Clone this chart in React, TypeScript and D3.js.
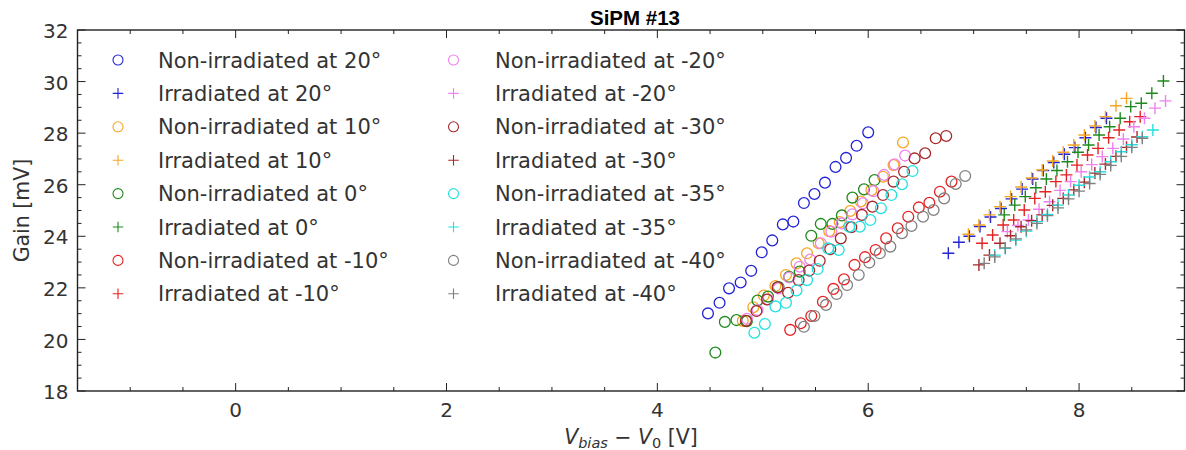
import React from 'react';
import * as d3 from 'd3';

// ---------- data ----------
const xDomain = [-1.5, 9];
const yDomain = [18, 32];
const xMajorTicks = [0, 2, 4, 6, 8];
const yMajorTicks = [18, 20, 22, 24, 26, 28, 30, 32];

const nonIrr20X = [4.48, 4.59, 4.68, 4.79, 4.89, 4.99, 5.09, 5.19, 5.29, 5.39, 5.49, 5.59, 5.69, 5.79, 5.89, 6.0];
const nonIrr20Y = [21.01, 21.42, 21.98, 22.21, 22.66, 23.38, 23.84, 24.46, 24.57, 25.29, 25.64, 26.08, 26.69, 27.04, 27.51, 28.03];
const irr20X = [6.76, 6.86, 6.96, 7.06, 7.16, 7.26, 7.36, 7.46, 7.56, 7.66, 7.76, 7.86, 7.96, 8.06, 8.16, 8.26];
const irr20Y = [23.34, 23.77, 24.0, 24.38, 24.75, 25.08, 25.45, 25.83, 26.22, 26.55, 26.86, 27.18, 27.44, 27.82, 28.22, 28.58];

const nonIrr10X = [4.81, 4.91, 5.01, 5.12, 5.22, 5.32, 5.42, 5.53, 5.63, 5.73, 5.83, 5.93, 6.03, 6.14, 6.24, 6.33];
const nonIrr10Y = [20.72, 21.25, 21.7, 22.07, 22.5, 22.95, 23.34, 23.73, 24.2, 24.55, 24.98, 25.35, 25.79, 26.31, 26.76, 27.64];
const irr10X = [6.95, 7.05, 7.15, 7.25, 7.35, 7.45, 7.55, 7.65, 7.75, 7.85, 7.95, 8.05, 8.15, 8.25, 8.35, 8.45];
const irr10Y = [24.08, 24.44, 24.83, 25.15, 25.54, 25.91, 26.26, 26.57, 26.92, 27.26, 27.54, 27.93, 28.28, 28.64, 29.06, 29.35];

const nonIrr0X = [4.55, 4.64, 4.75, 4.85, 4.95, 5.05, 5.15, 5.25, 5.35, 5.46, 5.55, 5.66, 5.75, 5.85, 5.96, 6.06];
const nonIrr0Y = [19.49, 20.68, 20.75, 20.71, 21.51, 21.66, 22.03, 22.43, 22.63, 24.02, 24.48, 24.48, 24.81, 25.5, 25.82, 26.18];
const irr0X = [7.29, 7.39, 7.49, 7.59, 7.69, 7.79, 7.89, 7.99, 8.09, 8.19, 8.29, 8.39, 8.49, 8.59, 8.69, 8.8];
const irr0Y = [24.83, 25.21, 25.54, 25.88, 26.22, 26.55, 26.89, 27.26, 27.54, 27.93, 28.25, 28.58, 29.03, 29.16, 29.55, 30.02];

const nonIrrM10X = [5.26, 5.36, 5.46, 5.57, 5.67, 5.77, 5.87, 5.97, 6.07, 6.17, 6.28, 6.38, 6.48, 6.58, 6.68, 6.79];
const nonIrrM10Y = [20.37, 20.63, 20.91, 21.46, 21.96, 22.33, 22.89, 23.19, 23.47, 23.92, 24.31, 24.76, 25.12, 25.3, 25.73, 26.12];
const irrM10X = [7.08, 7.18, 7.28, 7.38, 7.48, 7.58, 7.68, 7.78, 7.88, 7.98, 8.08, 8.18, 8.28, 8.38, 8.48, 8.58];
const irrM10Y = [23.73, 24.05, 24.44, 24.63, 25.02, 25.47, 25.73, 26.12, 26.38, 26.76, 27.15, 27.41, 27.82, 28.12, 28.44, 28.64];

const nonIrrM20X = [4.85, 4.95, 5.05, 5.15, 5.25, 5.35, 5.45, 5.55, 5.65, 5.75, 5.85, 5.95, 6.05, 6.15, 6.25, 6.35];
const nonIrrM20Y = [20.8, 21.14, 21.55, 21.98, 22.4, 22.82, 23.1, 23.73, 24.18, 24.5, 24.85, 25.28, 25.75, 26.38, 26.79, 27.13];
const irrM20X = [7.32, 7.42, 7.52, 7.62, 7.72, 7.82, 7.92, 8.02, 8.12, 8.22, 8.32, 8.42, 8.52, 8.62, 8.72, 8.82];
const irrM20Y = [24.18, 24.42, 24.63, 25.05, 25.34, 25.78, 26.12, 26.5, 26.78, 27.09, 27.41, 27.77, 28.25, 28.58, 28.97, 29.25];

const nonIrrM30X = [4.84, 4.94, 5.04, 5.14, 5.24, 5.34, 5.44, 5.54, 5.64, 5.74, 5.84, 5.94, 6.04, 6.14, 6.24, 6.34, 6.44, 6.54, 6.64, 6.74];
const nonIrrM30Y = [20.72, 21.1, 21.55, 22.02, 21.81, 22.3, 22.67, 23.05, 23.5, 23.92, 24.35, 24.83, 25.15, 25.6, 26.12, 26.5, 27.02, 27.22, 27.8, 27.89];
const irrM30X = [7.05, 7.15, 7.25, 7.35, 7.45, 7.55, 7.65, 7.75, 7.85, 7.95, 8.05, 8.15, 8.25, 8.35, 8.45, 8.55];
const irrM30Y = [22.89, 23.27, 23.73, 24.02, 24.37, 24.6, 24.83, 25.2, 25.47, 25.8, 26.1, 26.45, 26.8, 27.1, 27.45, 27.85];

const nonIrrM35X = [4.92, 5.02, 5.12, 5.22, 5.32, 5.42, 5.52, 5.62, 5.72, 5.82, 5.92, 6.02, 6.12, 6.22, 6.32, 6.42];
const nonIrrM35Y = [20.26, 20.6, 21.28, 21.42, 21.9, 22.3, 22.73, 23.53, 23.47, 24.37, 24.37, 24.63, 25.09, 25.6, 26.02, 26.53];
const irrM35X = [7.2, 7.3, 7.4, 7.5, 7.6, 7.7, 7.8, 7.9, 8.0, 8.1, 8.2, 8.3, 8.4, 8.5, 8.6, 8.7];
const irrM35Y = [23.27, 23.53, 23.85, 24.2, 24.57, 24.85, 25.21, 25.6, 25.98, 26.3, 26.5, 26.89, 27.28, 27.55, 27.86, 28.12];

const nonIrrM40X = [5.39, 5.49, 5.6, 5.7, 5.8, 5.91, 6.01, 6.11, 6.21, 6.32, 6.41, 6.52, 6.62, 6.72, 6.83, 6.92];
const nonIrrM40Y = [20.49, 20.91, 21.34, 21.76, 22.11, 22.5, 22.98, 23.34, 23.6, 24.12, 24.4, 24.76, 25.02, 25.47, 26.03, 26.34];
const irrM40X = [7.1, 7.2, 7.3, 7.4, 7.5, 7.6, 7.7, 7.8, 7.9, 8.0, 8.1, 8.2, 8.3, 8.4, 8.5, 8.6];
const irrM40Y = [22.95, 23.2, 23.55, 23.9, 24.25, 24.5, 24.8, 25.1, 25.45, 25.75, 26.05, 26.4, 26.75, 27.1, 27.45, 27.8];

const temps = ['20', '10', '0', '-10', '-20', '-30', '-35', '-40'];
const colors = ['#2323d6', '#f5a623', '#1e8a1e', '#e52222', '#ee82ee', '#a52a2a', '#22e0e0', '#808080'];
const nonIrrXs = [nonIrr20X, nonIrr10X, nonIrr0X, nonIrrM10X, nonIrrM20X, nonIrrM30X, nonIrrM35X, nonIrrM40X];
const nonIrrYs = [nonIrr20Y, nonIrr10Y, nonIrr0Y, nonIrrM10Y, nonIrrM20Y, nonIrrM30Y, nonIrrM35Y, nonIrrM40Y];
const irrXs = [irr20X, irr10X, irr0X, irrM10X, irrM20X, irrM30X, irrM35X, irrM40X];
const irrYs = [irr20Y, irr10Y, irr0Y, irrM10Y, irrM20Y, irrM30Y, irrM35Y, irrM40Y];

// ---------- layout ----------
const W = 1186;
const H = 450;
const L = 77.5, R = 1184.5, T = 30, B = 391;
const FONT = 'DejaVu Sans, Verdana, sans-serif';
const TXT = '#333333';

type Series = { label: string; color: string; marker: 'o' | '+'; xs: number[]; ys: number[] };

const series: Series[] = [];
temps.forEach((t, i) => {
  series.push({ label: `Non-irradiated at ${t}°`, color: colors[i], marker: 'o', xs: nonIrrXs[i], ys: nonIrrYs[i] });
  series.push({ label: `Irradiated at ${t}°`, color: colors[i], marker: '+', xs: irrXs[i], ys: irrYs[i] });
});

const plusPath = (a: number) => `M${-a},0H${a}M0,${-a}V${a}`;

export default function App() {
  const x = d3.scaleLinear().domain(xDomain).range([L, R]);
  const y = d3.scaleLinear().domain(yDomain).range([B, T]);
  const xMinor = d3.range(xDomain[0], xDomain[1] + 0.001, 0.5).filter((v) => !xMajorTicks.includes(v));
  const yMinor = d3.range(yDomain[0], yDomain[1] + 0.001, 0.5).filter((v) => !yMajorTicks.includes(v));
  const MAJ = 8, MIN = 4;
  const tickColor = '#222';

  return (
    <svg width={W} height={H} style={{ position: 'absolute', left: 0, top: 0, background: '#fff' }}>
      <rect x={0} y={0} width={W} height={H} fill="#fff" />
      <defs>
        <clipPath id="clip">
          <rect x={L} y={T} width={R - L} height={B - T} />
        </clipPath>
      </defs>
      {/* title */}
      <text x={635} y={25} textAnchor="middle" fontFamily="Liberation Sans, Arial, sans-serif" fontWeight="bold" fontSize={20.5} fill="#000">
        SiPM #13
      </text>

      {/* data */}
      <g clipPath="url(#clip)">
        {series.map((s, si) => (
          <g key={si}>
            {s.xs.map((xv, k) =>
              s.marker === 'o' ? (
                <circle key={k} cx={x(xv)} cy={y(s.ys[k])} r={5.4} fill="none" stroke={s.color} strokeWidth={1.3} />
              ) : (
                <path key={k} d={plusPath(6)} transform={`translate(${x(xv)},${y(s.ys[k])})`} fill="none" stroke={s.color} strokeWidth={1.4} />
              )
            )}
          </g>
        ))}
      </g>

      {/* legend */}
      {series.map((s, i) => {
        const col = i < 8 ? 0 : 1;
        const row = i % 8;
        const mx = col === 0 ? 118 : 453.5;
        const tx = col === 0 ? 158 : 495;
        const cy = 60 + row * 33.4;
        return (
          <g key={'lg' + i}>
            {s.marker === 'o' ? (
              <circle cx={mx} cy={cy} r={5} fill="none" stroke={s.color} strokeWidth={1.1} />
            ) : (
              <path d={plusPath(5.3)} transform={`translate(${mx},${cy})`} fill="none" stroke={s.color} strokeWidth={1.1} />
            )}
            <text x={tx} y={cy} dy="0.36em" fontFamily={FONT} fontSize={21} fill={TXT}>
              {s.label}
            </text>
          </g>
        );
      })}

      {/* ticks */}
      <g stroke={tickColor} strokeWidth={1}>
        {xMajorTicks.map((v) => (
          <g key={'xm' + v}>
            <line x1={x(v)} x2={x(v)} y1={B} y2={B - MAJ} />
            <line x1={x(v)} x2={x(v)} y1={T} y2={T + MAJ} />
          </g>
        ))}
        {xMinor.map((v) => (
          <g key={'xn' + v}>
            <line x1={x(v)} x2={x(v)} y1={B} y2={B - MIN} />
            <line x1={x(v)} x2={x(v)} y1={T} y2={T + MIN} />
          </g>
        ))}
        {yMajorTicks.map((v) => (
          <g key={'ym' + v}>
            <line x1={L} x2={L + MAJ} y1={y(v)} y2={y(v)} />
            <line x1={R} x2={R - MAJ} y1={y(v)} y2={y(v)} />
          </g>
        ))}
        {yMinor.map((v) => (
          <g key={'yn' + v}>
            <line x1={L} x2={L + MIN} y1={y(v)} y2={y(v)} />
            <line x1={R} x2={R - MIN} y1={y(v)} y2={y(v)} />
          </g>
        ))}
      </g>

      {/* frame */}
      <rect x={L} y={T} width={R - L} height={B - T} fill="none" stroke="#222" strokeWidth={1.4} />

      {/* tick labels */}
      {xMajorTicks.map((v) => (
        <text key={'xl' + v} x={x(v)} y={417} textAnchor="middle" fontFamily={FONT} fontSize={20} fill={TXT}>
          {v}
        </text>
      ))}
      {yMajorTicks.map((v) => (
        <text key={'yl' + v} x={68.5} y={y(v) + 1} dy="0.36em" textAnchor="end" fontFamily={FONT} fontSize={20} fill={TXT}>
          {v}
        </text>
      ))}

      {/* axis labels */}
      <text transform={`translate(29,${(T + B) / 2}) rotate(-90)`} textAnchor="middle" fontFamily={FONT} fontSize={20.5} fill={TXT}>
        Gain [mV]
      </text>
      <text x={(L + R) / 2} y={444} textAnchor="middle" fontFamily={FONT} fontSize={20.5} fill={TXT}>
        <tspan fontStyle="italic">V</tspan>
        <tspan fontStyle="italic" fontSize={14.5} dy={4}>bias</tspan>
        <tspan dy={-4}>{' \u2212 '}</tspan>
        <tspan fontStyle="italic">V</tspan>
        <tspan fontSize={14.5} dy={4}>0</tspan>
        <tspan dy={-4}>{' [V]'}</tspan>
      </text>
    </svg>
  );
}
